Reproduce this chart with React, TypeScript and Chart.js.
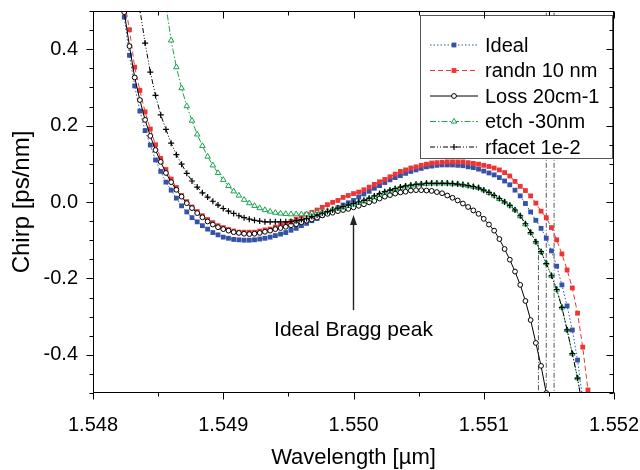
import React, { useEffect, useRef } from 'react';
import { Chart, registerables } from 'chart.js';

Chart.register(...registerables);

// Wavelength grid [µm]
const wavelength = [
  1.54820, 1.54824, 1.54828, 1.54832, 1.54836, 1.54840, 1.54844, 1.54848, 1.54852, 1.54856,
  1.54860, 1.54864, 1.54868, 1.54872, 1.54876, 1.54880, 1.54884, 1.54888, 1.54892, 1.54896,
  1.54900, 1.54904, 1.54908, 1.54912, 1.54916, 1.54920, 1.54924, 1.54928, 1.54932, 1.54936,
  1.54940, 1.54944, 1.54948, 1.54952, 1.54956, 1.54960, 1.54964, 1.54968, 1.54972, 1.54976,
  1.54980, 1.54984, 1.54988, 1.54992, 1.54996, 1.55000, 1.55004, 1.55008, 1.55012, 1.55016,
  1.55020, 1.55024, 1.55028, 1.55032, 1.55036, 1.55040, 1.55044, 1.55048, 1.55052, 1.55056,
  1.55060, 1.55064, 1.55068, 1.55072, 1.55076, 1.55080, 1.55084, 1.55088, 1.55092, 1.55096,
  1.55100, 1.55104, 1.55108, 1.55112, 1.55116, 1.55120, 1.55124, 1.55128, 1.55132, 1.55136,
  1.55140, 1.55144, 1.55148, 1.55152, 1.55156, 1.55160, 1.55164, 1.55168, 1.55172, 1.55176,
  1.55180, 1.55184,
];

const ideal = [
  0.59, 0.484, 0.384, 0.304, 0.238, 0.187, 0.149, 0.110, 0.080, 0.052,
  0.031, 0.010, -0.010, -0.026, -0.041, -0.052, -0.062, -0.071, -0.080, -0.086,
  -0.092, -0.095, -0.098, -0.099, -0.100, -0.100, -0.099, -0.097, -0.095, -0.092,
  -0.088, -0.084, -0.080, -0.074, -0.069, -0.062, -0.056, -0.049, -0.043, -0.035,
  -0.028, -0.022, -0.015, -0.008, -0.002, 0.004, 0.013, 0.021, 0.028, 0.036,
  0.043, 0.051, 0.058, 0.064, 0.069, 0.075, 0.080, 0.084, 0.088, 0.092,
  0.094, 0.096, 0.097, 0.097, 0.097, 0.096, 0.095, 0.092, 0.090, 0.086,
  0.081, 0.076, 0.071, 0.064, 0.055, 0.045, 0.031, 0.016, -0.004, -0.026,
  -0.048, -0.069, -0.095, -0.128, -0.168, -0.217, -0.272, -0.335, -0.414, -0.518,
  null, null,
];

const randn = [
  0.60, 0.529, 0.451, 0.353, 0.292, 0.236, 0.191, 0.150, 0.114, 0.085,
  0.060, 0.038, 0.017, 0.001, -0.013, -0.025, -0.036, -0.046, -0.054, -0.062,
  -0.067, -0.072, -0.076, -0.079, -0.079, -0.079, -0.079, -0.076, -0.073, -0.071,
  -0.066, -0.061, -0.056, -0.051, -0.045, -0.037, -0.032, -0.027, -0.021, -0.014,
  -0.007, -0.001, 0.004, 0.012, 0.017, 0.022, 0.026, 0.032, 0.039, 0.046,
  0.053, 0.059, 0.066, 0.073, 0.080, 0.084, 0.089, 0.092, 0.096, 0.099,
  0.102, 0.103, 0.104, 0.105, 0.105, 0.105, 0.105, 0.103, 0.101, 0.099,
  0.096, 0.093, 0.089, 0.084, 0.077, 0.068, 0.054, 0.041, 0.030, 0.016,
  -0.003, -0.024, -0.041, -0.067, -0.099, -0.136, -0.178, -0.225, -0.291, -0.380,
  -0.492, -0.63,
];

const loss = [
  0.589, 0.497, 0.408, 0.326, 0.267, 0.215, 0.173, 0.136, 0.105, 0.076,
  0.052, 0.032, 0.014, -0.003, -0.016, -0.029, -0.040, -0.051, -0.059, -0.066,
  -0.071, -0.075, -0.079, -0.081, -0.083, -0.084, -0.083, -0.081, -0.078, -0.075,
  -0.071, -0.068, -0.065, -0.061, -0.058, -0.053, -0.049, -0.046, -0.041, -0.035,
  -0.031, -0.028, -0.024, -0.021, -0.018, -0.014, -0.010, -0.006, -0.001, 0.003,
  0.009, 0.014, 0.018, 0.022, 0.025, 0.027, 0.030, 0.031, 0.031, 0.030,
  0.029, 0.026, 0.023, 0.017, 0.011, 0.004, -0.004, -0.013, -0.022, -0.031,
  -0.044, -0.059, -0.075, -0.097, -0.123, -0.151, -0.182, -0.217, -0.259, -0.309,
  -0.369, -0.429, -0.500, -0.60, null, null, null, null, null, null,
  null, null,
];

const etch = [
  null, null, null, null, null, null, null, null, 0.61, 0.514,
  0.423, 0.353, 0.298, 0.251, 0.213, 0.177, 0.147, 0.119, 0.096, 0.076,
  0.058, 0.042, 0.028, 0.017, 0.006, -0.003, -0.010, -0.016, -0.021, -0.025,
  -0.028, -0.030, -0.031, -0.032, -0.032, -0.032, -0.032, -0.030, -0.028, -0.026,
  -0.023, -0.019, -0.016, -0.013, -0.010, -0.006, -0.001, 0.003, 0.008, 0.013,
  0.020, 0.025, 0.030, 0.034, 0.037, 0.041, 0.043, 0.046, 0.047, 0.048,
  0.049, 0.049, 0.049, 0.049, 0.048, 0.047, 0.045, 0.043, 0.040, 0.037,
  0.031, 0.024, 0.017, 0.008, 0.000, -0.009, -0.021, -0.037, -0.058, -0.080,
  -0.105, -0.131, -0.160, -0.193, -0.229, -0.276, -0.335, -0.397, -0.461, -0.539,
  null, null,
];

const rfacet = [
  null, null, null, 0.59, 0.504, 0.416, 0.340, 0.279, 0.228, 0.190,
  0.154, 0.124, 0.099, 0.075, 0.055, 0.039, 0.024, 0.013, 0.002, -0.008,
  -0.017, -0.024, -0.030, -0.036, -0.041, -0.045, -0.048, -0.050, -0.052, -0.052,
  -0.052, -0.052, -0.052, -0.051, -0.049, -0.046, -0.043, -0.038, -0.034, -0.029,
  -0.025, -0.021, -0.016, -0.012, -0.008, -0.004, 0.000, 0.004, 0.010, 0.016,
  0.022, 0.027, 0.031, 0.035, 0.039, 0.042, 0.044, 0.046, 0.047, 0.049,
  0.049, 0.049, 0.049, 0.049, 0.048, 0.047, 0.045, 0.043, 0.040, 0.037,
  0.031, 0.025, 0.017, 0.009, 0.000, -0.009, -0.021, -0.036, -0.057, -0.080,
  -0.104, -0.130, -0.161, -0.193, -0.229, -0.276, -0.335, -0.397, -0.461, -0.540,
  null, null,
];

// Vertical jump segments (dash-dot) near the band edge
const jumpX = [1.55142, 1.55148, 1.55154];
const jumpTop = [-0.113, 0.6, 0.6];
const jumpBottom = [-0.6, -0.6, -0.6];

const seriesNames = ['Ideal', 'randn 10 nm', 'Loss 20cm-1', 'etch -30nm', 'rfacet 1e-2'];
const xTicks = [1.548, 1.549, 1.550, 1.551, 1.552];
const yTicks = [-0.4, -0.2, 0.0, 0.2, 0.4];
const xRange = [1.548, 1.552];
const yRange = [-0.5, 0.5];

const annotationText = 'Ideal Bragg peak';
const arrowX = 1.550;
const arrowTip = -0.034;
const arrowTail = -0.283;
const annotationY = -0.335;

const FONT = "'Liberation Sans', Arial, Helvetica, sans-serif";

type Style = {
  color: string; dash: number[]; pointStyle: string; radius: number; fill: string; pbw: number;
};
const styles: Style[] = [
  { color: '#3352a8', dash: [1.5, 2], pointStyle: 'rect', radius: 3.4, fill: '#3352a8', pbw: 0 },
  { color: '#ee3535', dash: [5, 3], pointStyle: 'rect', radius: 3.4, fill: '#ee3535', pbw: 0 },
  { color: '#000000', dash: [], pointStyle: 'circle', radius: 2.4, fill: '#ffffff', pbw: 1 },
  { color: '#19a550', dash: [6, 2, 1.5, 2], pointStyle: 'triangle', radius: 3.2, fill: '#ffffff', pbw: 1 },
  { color: '#000000', dash: [5, 2, 1, 2, 1, 2], pointStyle: 'cross', radius: 3, fill: '#000000', pbw: 1.2 },
];

function drawMarker(ctx: CanvasRenderingContext2D, st: Style, x: number, y: number) {
  ctx.save();
  ctx.setLineDash([]);
  ctx.fillStyle = st.fill;
  ctx.strokeStyle = st.color;
  ctx.lineWidth = st.pbw;
  const r = st.radius;
  ctx.beginPath();
  if (st.pointStyle === 'rect') {
    const s = r * Math.SQRT1_2;
    ctx.rect(x - s, y - s, 2 * s, 2 * s);
    ctx.fill();
  } else if (st.pointStyle === 'circle') {
    ctx.arc(x, y, r, 0, Math.PI * 2);
    ctx.fill();
    ctx.stroke();
  } else if (st.pointStyle === 'triangle') {
    ctx.moveTo(x, y - r);
    ctx.lineTo(x + r * 0.866, y + r * 0.5);
    ctx.lineTo(x - r * 0.866, y + r * 0.5);
    ctx.closePath();
    ctx.fill();
    ctx.stroke();
  } else {
    ctx.moveTo(x - r, y);
    ctx.lineTo(x + r, y);
    ctx.moveTo(x, y - r);
    ctx.lineTo(x, y + r);
    ctx.stroke();
  }
  ctx.restore();
}

const overlayPlugin = {
  id: 'overlay',
  afterDatasetsDraw(chart: any) {
    const ctx: CanvasRenderingContext2D = chart.ctx;
    const { left, right, top, bottom } = chart.chartArea;
    const xs = chart.scales.x;
    const ys = chart.scales.y;

    // Annotation arrow + text
    ctx.save();
    const ax = xs.getPixelForValue(arrowX);
    const tipY = ys.getPixelForValue(arrowTip);
    const tailY = ys.getPixelForValue(arrowTail);
    ctx.strokeStyle = '#222';
    ctx.fillStyle = '#222';
    ctx.lineWidth = 1.4;
    ctx.beginPath();
    ctx.moveTo(ax, tailY);
    ctx.lineTo(ax, tipY + 8);
    ctx.stroke();
    ctx.beginPath();
    ctx.moveTo(ax, tipY);
    ctx.lineTo(ax - 3.5, tipY + 10);
    ctx.lineTo(ax + 3.5, tipY + 10);
    ctx.closePath();
    ctx.fill();
    ctx.fillStyle = '#000';
    ctx.font = `21px ${FONT}`;
    ctx.textAlign = 'center';
    ctx.textBaseline = 'middle';
    ctx.fillText(annotationText, ax, ys.getPixelForValue(annotationY));
    ctx.restore();

    // Legend box
    ctx.save();
    const lx = right - 194;
    const ly = top + 4;
    const lw = 192;
    const lh = 143;
    ctx.fillStyle = '#ffffff';
    ctx.fillRect(lx, ly, lw, lh);
    ctx.strokeStyle = '#555';
    ctx.lineWidth = 1;
    ctx.strokeRect(Math.round(lx) + 0.5, Math.round(ly) + 0.5, lw, lh);
    ctx.font = `20px ${FONT}`;
    ctx.textBaseline = 'middle';
    ctx.textAlign = 'left';
    seriesNames.forEach((name, i) => {
      const st = styles[i];
      const yy = ly + 30 + i * 25.5;
      ctx.save();
      ctx.strokeStyle = st.color;
      ctx.lineWidth = 1;
      ctx.setLineDash(st.dash);
      ctx.beginPath();
      ctx.moveTo(lx + 10, yy);
      ctx.lineTo(lx + 58, yy);
      ctx.stroke();
      ctx.restore();
      drawMarker(ctx, st, lx + 34, yy);
      ctx.fillStyle = '#000';
      ctx.fillText(name, lx + 65, yy + 1);
    });
    ctx.restore();

    // Frame and tick marks
    ctx.save();
    ctx.strokeStyle = '#000';
    ctx.lineWidth = 1;
    ctx.setLineDash([]);
    const L = Math.round(left) + 0.5, R = Math.round(right) - 0.5;
    const T = Math.round(top) + 0.5, B = Math.round(bottom) - 0.5;
    ctx.strokeRect(L, T, R - L, B - T);
    ctx.beginPath();
    const xStep = 0.0005;
    const nx = Math.round((xRange[1] - xRange[0]) / xStep);
    for (let k = 0; k <= nx; k++) {
      const v = xRange[0] + k * xStep;
      const px = Math.round(xs.getPixelForValue(v)) + 0.5;
      const len = k % 2 === 0 ? 7 : 4;
      ctx.moveTo(px, B);
      ctx.lineTo(px, B + len);
      ctx.moveTo(px, T);
      ctx.lineTo(px, T + len);
    }
    const yStep = 0.05;
    const ny = Math.round((yRange[1] - yRange[0]) / yStep);
    for (let k = 0; k <= ny; k++) {
      const v = yRange[0] + k * yStep;
      const py = Math.round(ys.getPixelForValue(v)) + 0.5;
      const major = (k - 2) % 4 === 0;
      const len = major ? 7 : 4;
      ctx.moveTo(L, py);
      ctx.lineTo(L - len, py);
      ctx.moveTo(R, py);
      ctx.lineTo(R - len, py);
    }
    ctx.stroke();
    ctx.restore();
  },
};

function App() {
  const ref = useRef<HTMLCanvasElement | null>(null);

  useEffect(() => {
    if (!ref.current) return;
    Chart.defaults.font.family = FONT;
    Chart.defaults.font.size = 20;
    Chart.defaults.color = '#000';

    const series = [ideal, randn, loss, etch, rfacet];
    const datasets: any[] = series.map((vals, si) => {
      const st = styles[si];
      return {
        label: seriesNames[si],
        data: wavelength.map((x, i) => ({ x, y: vals[i] })),
        borderColor: st.color,
        borderWidth: 1,
        borderDash: st.dash,
        backgroundColor: st.fill,
        pointStyle: st.pointStyle,
        pointRadius: st.radius,
        pointBackgroundColor: st.fill,
        pointBorderColor: st.color,
        pointBorderWidth: st.pbw,
        tension: 0,
        spanGaps: false,
        fill: false,
        order: 10 - si,
      };
    });

    const jumpData: any[] = [];
    jumpX.forEach((x, i) => {
      jumpData.push({ x, y: jumpTop[i] });
      jumpData.push({ x, y: jumpBottom[i] });
      jumpData.push({ x: x + 0.00001, y: null });
    });
    datasets.push({
      label: 'jumps',
      data: jumpData,
      borderColor: '#555',
      borderWidth: 1,
      borderDash: [5, 2, 1, 2],
      pointRadius: 0,
      spanGaps: false,
      fill: false,
      order: 20,
    });

    const zeroPad = (s: any) => {
      s.paddingLeft = 0;
      s.paddingRight = 0;
      s.paddingTop = 0;
      s.paddingBottom = 0;
    };

    const chart = new Chart(ref.current, {
      type: 'line',
      data: { datasets },
      options: {
        animation: false,
        responsive: false,
        devicePixelRatio: 1,
        layout: { padding: { top: 11, right: 26, left: 0, bottom: 0 } },
        plugins: { legend: { display: false }, tooltip: { enabled: false } },
        scales: {
          x: {
            type: 'linear',
            min: xRange[0],
            max: xRange[1],
            grid: { display: false, drawTicks: false },
            border: { display: false },
            afterBuildTicks: (s: any) => { s.ticks = xTicks.map((v) => ({ value: v })); },
            afterFit: (s: any) => { s.height = 77; zeroPad(s); },
            ticks: {
              autoSkip: false,
              maxRotation: 0,
              padding: 20,
              font: { size: 20 },
              callback: (v: any) => Number(v).toFixed(3),
            },
            title: {
              display: true,
              text: 'Wavelength [µm]',
              font: { size: 22, lineHeight: 1 },
              padding: { top: 0, bottom: 1 },
            },
          },
          y: {
            type: 'linear',
            min: yRange[0],
            max: yRange[1],
            grid: { display: false, drawTicks: false },
            border: { display: false },
            afterBuildTicks: (s: any) => { s.ticks = yTicks.map((v) => ({ value: v })); },
            afterFit: (s: any) => { s.width = 93; zeroPad(s); },
            ticks: {
              padding: 15,
              font: { size: 20 },
              callback: (v: any) => Number(v).toFixed(1),
            },
            title: {
              display: true,
              text: 'Chirp [ps/nm]',
              font: { size: 24, lineHeight: 1 },
              padding: { top: 10, bottom: 0 },
            },
          },
        },
      },
      plugins: [overlayPlugin],
    });

    return () => chart.destroy();
  }, []);

  return (
    <div style={{ position: 'fixed', left: 0, top: 0, width: 640, height: 470, background: '#fff' }}>
      <canvas ref={ref} width={640} height={470} style={{ width: 640, height: 470 }} />
    </div>
  );
}

export default App;
